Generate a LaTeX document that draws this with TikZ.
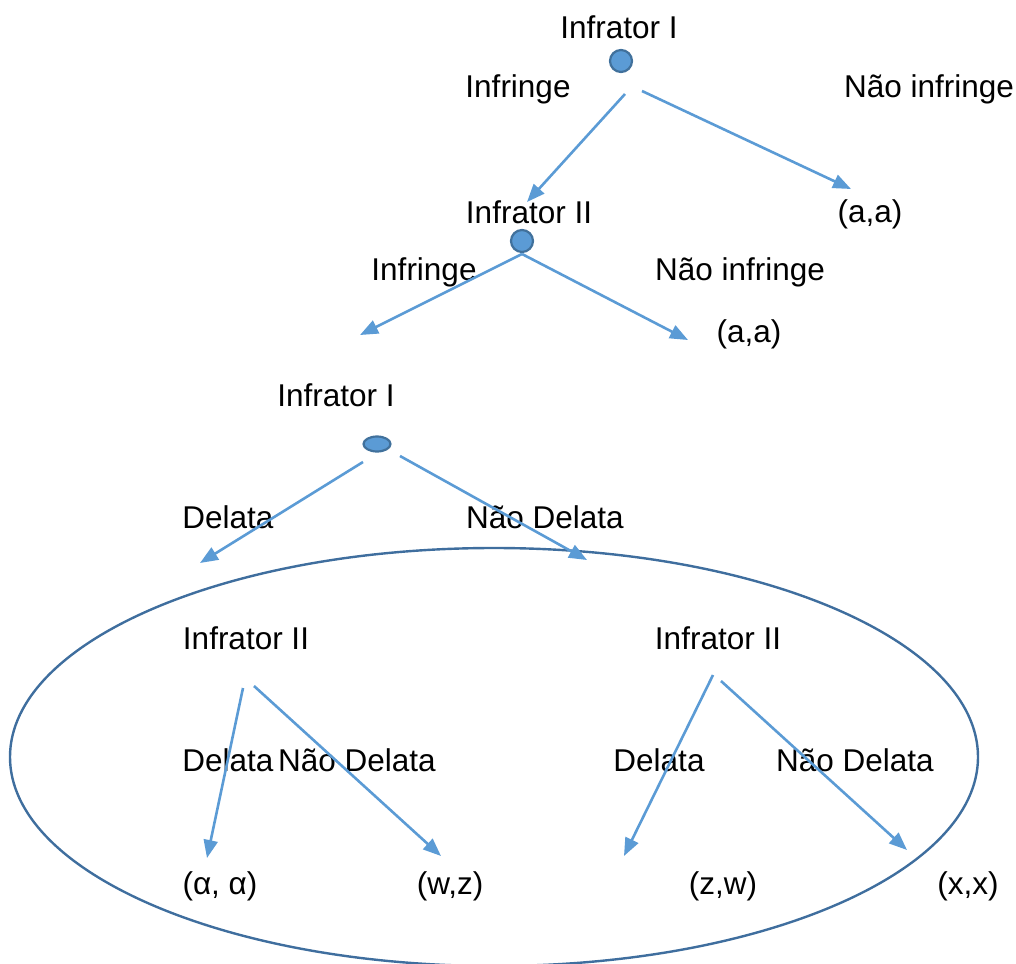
\documentclass[tikz,border=0pt]{standalone}
\usepackage{fontspec}
\setmainfont{Liberation Sans}
\usetikzlibrary{arrows.meta,shapes.geometric}
\definecolor{lblue}{HTML}{5B9BD5}
\definecolor{dblue}{HTML}{41719C}
\definecolor{eblue}{HTML}{3F6E9E}
\begin{document}
\begin{tikzpicture}[x=1pt,y=-1pt,
  lbl/.style={font=\fontsize{31.5}{36}\selectfont, text=black, inner sep=0pt, anchor=center},
  conn/.style={draw=lblue, line width=2.6pt, -{Triangle[length=18pt,width=14pt]}},
  dot/.style={circle, fill=lblue, draw=dblue, line width=2.2pt, minimum size=22pt, inner sep=0pt},
  flatdot/.style={ellipse, fill=lblue, draw=dblue, line width=2.2pt, minimum width=27pt, minimum height=15pt, inner sep=0pt}]
\useasboundingbox (0,0) rectangle (1016,963);
% decision points
\node[dot] (n1) at (621,61) {};
\node[dot] (n2) at (522,241) {};
\node[flatdot] (n3) at (377,444) {};
% big ellipse
\node[ellipse, draw=eblue, line width=2.4pt, minimum width=968pt, minimum height=418pt, inner sep=0pt] (big) at (494,757) {};
% labels
\node[lbl] (t1) at (619,27) {Infrator I};
\node[lbl] (l1a) at (518,89) {Infringe};
\node[lbl] (l1b) at (929,89) {Não infringe};
\node[lbl] (t2) at (529,212) {Infrator II};
\node[lbl] (p1) at (870,214) {(a,a)};
\node[lbl] (l2a) at (424,272) {Infringe};
\node[lbl] (l2b) at (740,272) {Não infringe};
\node[lbl] (p2) at (749,334) {(a,a)};
\node[lbl] (t3) at (336,395) {Infrator I};
\node[lbl] (l3a) at (228,517) {Delata};
\node[lbl] (l3b) at (545,517) {Não Delata};
\node[lbl] (t4) at (246,638) {Infrator II};
\node[lbl] (t5) at (718,638) {Infrator II};
\node[lbl] (l4a) at (228,760) {Delata};
\node[lbl] (l4b) at (357,760) {Não Delata};
\node[lbl] (l5a) at (659,760) {Delata};
\node[lbl] (l5b) at (855,760) {Não Delata};
\node[lbl] (p3) at (220,886) {(α, α)};
\node[lbl] (p4) at (450,886) {(w,z)};
\node[lbl] (p5) at (723,886) {(z,w)};
\node[lbl] (p6) at (968,886) {(x,x)};
% connector end points
\coordinate (s1a) at (625,94);  \coordinate (e1a) at (527,202);
\coordinate (s1b) at (642,91);  \coordinate (e1b) at (851,189);
\coordinate (s2) at (522,254);  \coordinate (e2a) at (360,335);
\coordinate (e2b) at (688,340);
\coordinate (s3a) at (363,462); \coordinate (e3a) at (200,563);
\coordinate (s3b) at (400,456); \coordinate (e3b) at (587,560);
\coordinate (s4a) at (243,688); \coordinate (e4a) at (207,858);
\coordinate (s4b) at (254,686); \coordinate (e4b) at (441,856);
\coordinate (s5a) at (713,675); \coordinate (e5a) at (624,856);
\coordinate (s5b) at (721,681); \coordinate (e5b) at (907,850);
\draw[conn] (s1a) -- (e1a);
\draw[conn] (s1b) -- (e1b);
\draw[conn] (s2) -- (e2a);
\draw[conn] (s2) -- (e2b);
\draw[conn] (s3a) -- (e3a);
\draw[conn] (s3b) -- (e3b);
\draw[conn] (s4a) -- (e4a);
\draw[conn] (s4b) -- (e4b);
\draw[conn] (s5a) -- (e5a);
\draw[conn] (s5b) -- (e5b);
\end{tikzpicture}
\end{document}
